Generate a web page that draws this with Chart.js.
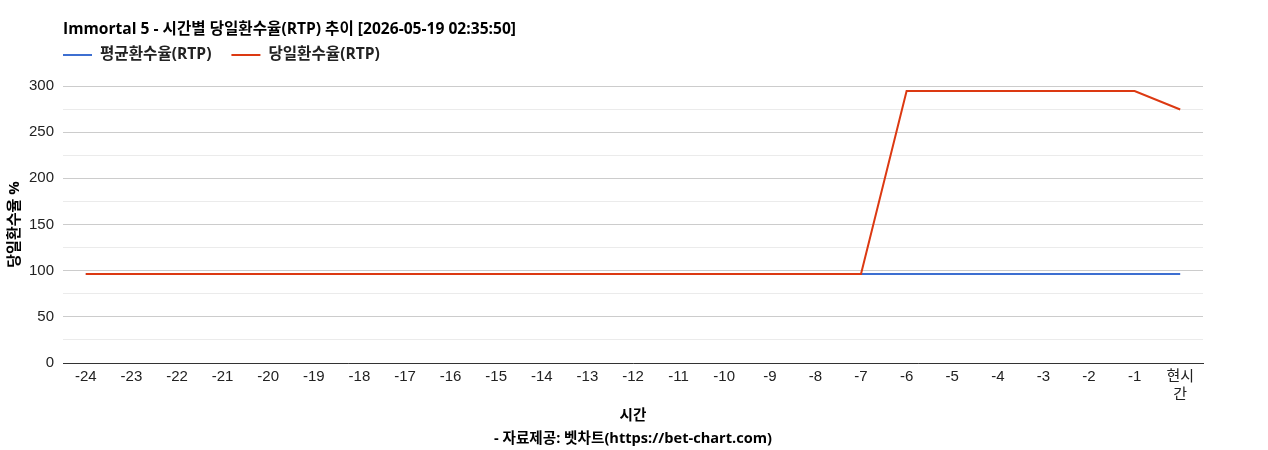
<!DOCTYPE html>
<html><head><meta charset="utf-8">
<script src="https://cdn.jsdelivr.net/npm/chart.js@4"></script>
<style>html,body{margin:0;padding:0;background:#fff}#wrap{width:1268px;height:450px}</style>
</head><body><div id="wrap"><canvas id="c" width="1268" height="450"></canvas></div>
<script>
const chartTitle = 'Immortal 5 - 시간별 당일환수율(RTP) 추이 [2026-05-19 02:35:50]';
const categories = ['-24','-23','-22','-21','-20','-19','-18','-17','-16','-15','-14','-13','-12','-11','-10','-9','-8','-7','-6','-5','-4','-3','-2','-1',['현시','간']];
const avgLabel = '평균환수율(RTP)';
const dailyLabel = '당일환수율(RTP)';
const avgValues = [96.3,96.3,96.3,96.3,96.3,96.3,96.3,96.3,96.3,96.3,96.3,96.3,96.3,96.3,96.3,96.3,96.3,96.3,96.3,96.3,96.3,96.3,96.3,96.3,96.3];
const dailyValues = [96.3,96.3,96.3,96.3,96.3,96.3,96.3,96.3,96.3,96.3,96.3,96.3,96.3,96.3,96.3,96.3,96.3,96.3,294.5,294.5,294.5,294.5,294.5,294.5,274.5];
const yTitle = '당일환수율 %';
const xTitle = ['시간','- 자료제공: 벳차트(https://bet-chart.com)'];

const boldFamily = '"Open Sans", "Noto Sans CJK KR", sans-serif';
const boldFont = 'bold 15.6px ' + boldFamily;
const headerPlugin = {
  id: 'header',
  afterDraw(chart) {
    const ctx = chart.ctx;
    const left = chart.chartArea.left;
    ctx.save();
    ctx.fillStyle = '#000';
    ctx.font = boldFont;
    ctx.textBaseline = 'middle';
    ctx.textAlign = 'left';
    ctx.fillText(chartTitle, left, 30);
    let x = left;
    chart.data.datasets.forEach(ds => {
      ctx.strokeStyle = ds.borderColor;
      ctx.lineWidth = 2;
      ctx.beginPath(); ctx.moveTo(x, 55); ctx.lineTo(x + 29, 55); ctx.stroke();
      ctx.fillStyle = '#222';
      ctx.fillText(ds.label, x + 37, 55);
      x += 37 + ctx.measureText(ds.label).width + 20;
    });
    ctx.restore();
  }
};

new Chart(document.getElementById('c'), {
  type: 'line',
  data: {
    labels: categories,
    datasets: [
      { label: avgLabel, data: avgValues, borderColor: '#3d6fd1', backgroundColor: '#3d6fd1', borderWidth: 2, pointRadius: 0, tension: 0, order: 1 },
      { label: dailyLabel, data: dailyValues, borderColor: '#dc3912', backgroundColor: '#dc3912', borderWidth: 2, pointRadius: 0, tension: 0, order: 0 }
    ]
  },
  options: {
    responsive: false,
    animation: false,
    layout: { padding: { top: 86, right: 65, left: 0, bottom: 0 } },
    plugins: { legend: { display: false }, title: { display: false }, tooltip: { enabled: false } },
    scales: {
      x: {
        offset: true,
        grid: { display: false, drawTicks: false },
        border: { display: true, color: '#333', width: 1 },
        ticks: { color: '#222', font: { family: '"Liberation Sans", "Noto Sans CJK KR", sans-serif', size: 15 }, padding: 5, maxRotation: 0, autoSkip: false },
        title: { display: true, text: xTitle, color: '#000', font: { family: boldFamily, size: 14.6, weight: 'bold', lineHeight: '23px' }, padding: { top: 0, bottom: 0 } },
        afterFit(scale) { scale.height = 87; }
      },
      y: {
        min: 0, max: 300,
        border: { display: false },
        grid: { color: ctx => (ctx.tick.value % 50 === 0 ? '#cccccc' : '#ebebeb'), drawTicks: false },
        ticks: { stepSize: 25, color: '#222', padding: 9, font: { family: '"Liberation Sans", sans-serif', size: 15 }, callback: v => (v % 50 === 0 ? v : '') },
        title: { display: true, text: yTitle, color: '#000', font: { family: boldFamily, size: 15, weight: 'bold', lineHeight: 1.2 }, padding: { top: 6, bottom: 0 } },
        afterFit(scale) { scale.width = 63; }
      }
    }
  },
  plugins: [headerPlugin]
});
</script></body></html>
